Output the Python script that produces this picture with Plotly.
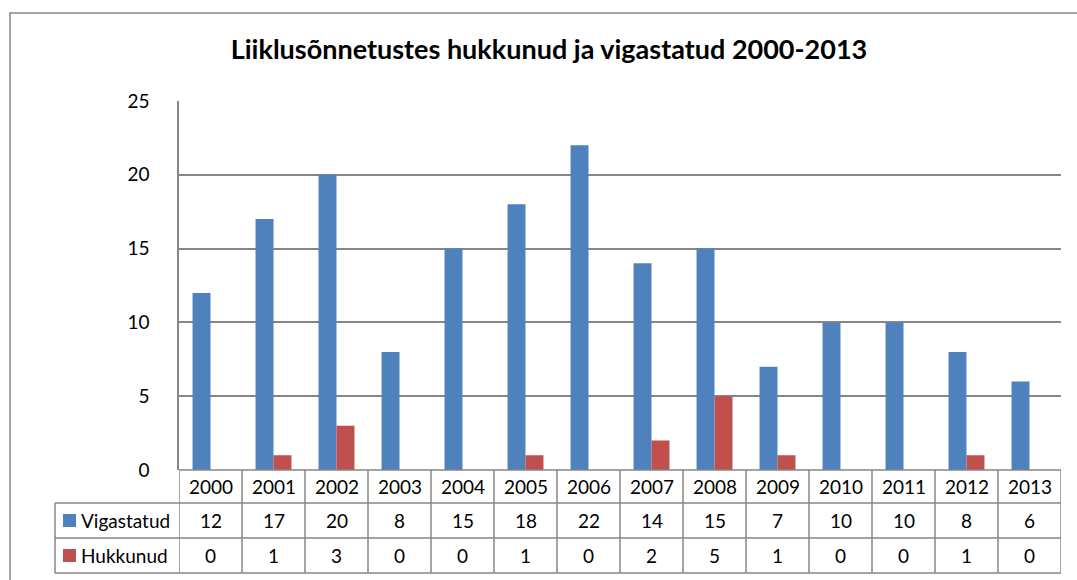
import plotly.graph_objects as go

years = ["2000", "2001", "2002", "2003", "2004", "2005", "2006",
         "2007", "2008", "2009", "2010", "2011", "2012", "2013"]
vigastatud = [12, 17, 20, 8, 15, 18, 22, 14, 15, 7, 10, 10, 8, 6]
hukkunud = [0, 1, 3, 0, 0, 1, 0, 2, 5, 1, 0, 0, 1, 0]
series_names = ["Vigastatud", "Hukkunud"]
series_colors = ["#4F81BD", "#C0504D"]
title_text = "Liiklusõnnetustes hukkunud ja vigastatud 2000-2013"

W, H = 1077, 580
FONT = "Lato"
GRID = "#868686"

def px(x):
    return x / W

def py(y):
    return 1 - y / H

plot_left, plot_right, plot_top, plot_bottom = 179, 1061, 101, 470
row_lines = [470, 503, 538, 573]
table_left = 55

fig = go.Figure()
for name, vals, col in zip(series_names, [vigastatud, hukkunud], series_colors):
    fig.add_trace(go.Bar(x=years, y=vals, name=name, marker=dict(color=col, line=dict(width=0)),
                         showlegend=False))

shapes = []
line = dict(color=GRID, width=1.5)
# chart border
shapes.append(dict(type="rect", xref="paper", yref="paper", x0=px(10), x1=px(1090),
                   y0=py(13), y1=py(600), line=dict(color=GRID, width=1.5)))
# table horizontal lines
shapes.append(dict(type="line", xref="paper", yref="paper", x0=px(plot_left), x1=px(plot_right),
                   y0=py(row_lines[0]), y1=py(row_lines[0]), line=line))
for r in row_lines[1:]:
    shapes.append(dict(type="line", xref="paper", yref="paper", x0=px(table_left), x1=px(plot_right),
                       y0=py(r), y1=py(r), line=line))
# vertical lines
shapes.append(dict(type="line", xref="paper", yref="paper", x0=px(table_left), x1=px(table_left),
                   y0=py(row_lines[1]), y1=py(row_lines[3]), line=line))
for i in range(len(years) + 1):
    shapes.append(dict(type="line", xref="x", yref="paper", x0=i - 0.5, x1=i - 0.5,
                       y0=py(row_lines[0]), y1=py(row_lines[3]), line=line))

annotations = []
tfont = dict(family=FONT, size=19, color="#000000")
row_centers = [(row_lines[k] + row_lines[k + 1]) / 2 for k in range(3)]
for i, yr in enumerate(years):
    annotations.append(dict(x=i, xref="x", y=py(row_centers[0]), yref="paper", text=yr,
                            showarrow=False, font=tfont, xanchor="center", yanchor="middle"))
    for k, vals in enumerate([vigastatud, hukkunud]):
        annotations.append(dict(x=i, xref="x", y=py(row_centers[k + 1]), yref="paper",
                                text=str(vals[i]), showarrow=False, font=tfont,
                                xanchor="center", yanchor="middle"))
for k, (name, col) in enumerate(zip(series_names, series_colors)):
    yc = row_centers[k + 1]
    shapes.append(dict(type="rect", xref="paper", yref="paper", x0=px(63), x1=px(76),
                       y0=py(yc + 6.5), y1=py(yc - 6.5), fillcolor=col, line=dict(width=0)))
    annotations.append(dict(x=px(79), xref="paper", y=py(yc), yref="paper", text=name,
                            showarrow=False, font=tfont, xanchor="left", yanchor="middle"))

fig.update_layout(
    width=W, height=H, autosize=False,
    margin=dict(l=0, r=0, t=0, b=0, pad=0),
    paper_bgcolor="white", plot_bgcolor="white",
    barmode="group", bargap=0.43, bargroupgap=0,
    title=dict(text="<b>" + title_text + "</b>", x=px(549), y=py(50), xanchor="center",
               yanchor="middle", font=dict(family=FONT, size=27, color="#000000")),
    xaxis=dict(domain=[px(plot_left), px(plot_right)], type="category", range=[-0.5, 13.5],
               showticklabels=False, showgrid=False, zeroline=False, showline=False, ticks="",
               automargin=False),
    yaxis=dict(domain=[py(plot_bottom), py(plot_top)], range=[0, 25], dtick=5,
               showgrid=True, gridcolor=GRID, gridwidth=1.5, zeroline=False,
               showline=True, linecolor=GRID, linewidth=1.5, ticks="", automargin=False,
               ticklabelstandoff=24, tickfont=dict(family=FONT, size=19, color="#000000")),
    shapes=shapes, annotations=annotations,
)

fig.write_html("out.html", config={"displayModeBar": False},
               post_script="document.body.style.margin='0';")
